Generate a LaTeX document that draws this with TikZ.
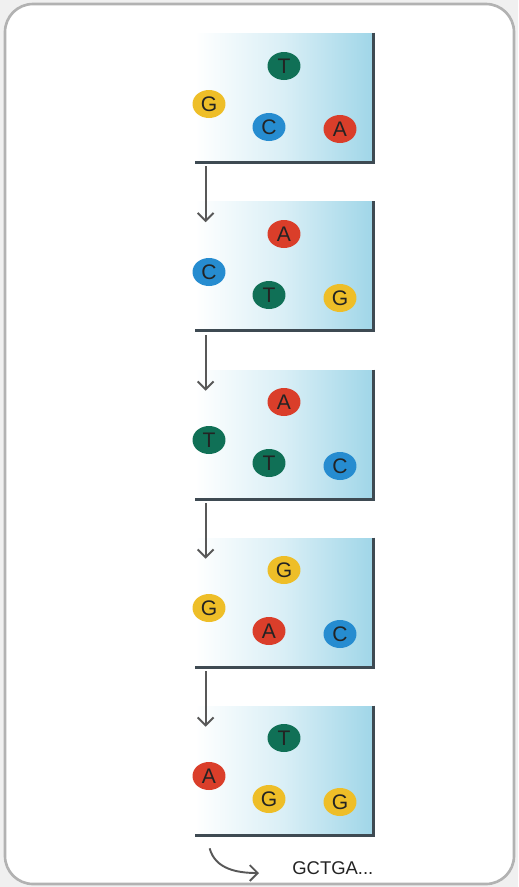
\documentclass[tikz,border=0pt]{standalone}
\usepackage{fontspec}
\setmainfont{Liberation Sans}
\usetikzlibrary{shapes.geometric, arrows.meta, positioning}
\definecolor{myframe}{RGB}{178,178,178}
\definecolor{mybg}{RGB}{240,240,240}
\definecolor{myblue}{RGB}{160,214,232}
\definecolor{myedge}{RGB}{62,74,82}
\definecolor{myarrow}{RGB}{88,88,88}
\definecolor{myyellow}{RGB}{238,190,40}
\definecolor{mygreen}{RGB}{16,112,86}
\definecolor{mycyan}{RGB}{38,140,208}
\definecolor{myred}{RGB}{218,62,42}
\definecolor{myink}{RGB}{35,35,35}
\tikzset{
  panel/.style={rectangle, minimum width=3.56cm, minimum height=2.58cm,
    inner sep=0pt, left color=white, right color=myblue, middle color=myblue!40},
  base/.style={ellipse, minimum width=0.66cm, minimum height=0.56cm,
    inner sep=0pt, font=\fontsize{12}{12}\selectfont, text=myink},
  gbase/.style={base, fill=myyellow},
  tbase/.style={base, fill=mygreen},
  cbase/.style={base, fill=mycyan},
  abase/.style={base, fill=myred},
  edge/.style={line width=1.6pt, color=myedge},
  arrow/.style={-{Straight Barb[length=4.5pt, width=9pt]}, line width=1.1pt, color=myarrow}
}
\begin{document}
\begin{tikzpicture}[x=0.02cm, y=-0.02cm]
  \useasboundingbox (0,0) rectangle (518,887);
  % Frame
  \fill[mybg] (0,0) rectangle (518,887);
  \draw[line width=1.5pt, color=myframe, fill=white, rounded corners=0.56cm] (5,4) rectangle (514,884);

  % Panel 1
  \node[panel] (p1) at (284,97.5) {};
  \draw[edge] (p1.north east) -- (p1.south east) -- (p1.south west);
  \node[tbase] (p1t) at (284,66) {T};
  \node[gbase] (p1l) at (209,104) {G};
  \node[cbase] (p1m) at (269,127) {C};
  \node[abase] (p1r) at (340,129) {A};

  % Panel 2
  \node[panel] (p2) at (284,266) {};
  \draw[edge] (p2.north east) -- (p2.south east) -- (p2.south west);
  \node[abase] (p2t) at (284,234) {A};
  \node[cbase] (p2l) at (209,272) {C};
  \node[tbase] (p2m) at (269,295) {T};
  \node[gbase] (p2r) at (340,298) {G};

  % Panel 3
  \node[panel] (p3) at (284,434.5) {};
  \draw[edge] (p3.north east) -- (p3.south east) -- (p3.south west);
  \node[abase] (p3t) at (284,402) {A};
  \node[tbase] (p3l) at (209,440) {T};
  \node[tbase] (p3m) at (269,463) {T};
  \node[cbase] (p3r) at (340,466) {C};

  % Panel 4
  \node[panel] (p4) at (284,602.5) {};
  \draw[edge] (p4.north east) -- (p4.south east) -- (p4.south west);
  \node[gbase] (p4t) at (284,570) {G};
  \node[gbase] (p4l) at (209,608) {G};
  \node[abase] (p4m) at (269,631) {A};
  \node[cbase] (p4r) at (340,634) {C};

  % Panel 5
  \node[panel] (p5) at (284,770.5) {};
  \draw[edge] (p5.north east) -- (p5.south east) -- (p5.south west);
  \node[tbase] (p5t) at (284,738) {T};
  \node[abase] (p5l) at (209,776) {A};
  \node[gbase] (p5m) at (269,799) {G};
  \node[gbase] (p5r) at (340,802) {G};

  % Steps
  \draw[arrow] ([xshift=0.22cm, yshift=-0.08cm]p1.south west) -- ([xshift=0.22cm, yshift=-0.42cm]p2.north west);
  \draw[arrow] ([xshift=0.22cm, yshift=-0.08cm]p2.south west) -- ([xshift=0.22cm, yshift=-0.42cm]p3.north west);
  \draw[arrow] ([xshift=0.22cm, yshift=-0.08cm]p3.south west) -- ([xshift=0.22cm, yshift=-0.42cm]p4.north west);
  \draw[arrow] ([xshift=0.22cm, yshift=-0.08cm]p4.south west) -- ([xshift=0.22cm, yshift=-0.42cm]p5.north west);

  % Read-out
  \node[anchor=west, inner sep=0pt, font=\fontsize{10.5}{12}\selectfont, text=myink] (seq) at (292,868) {GCTGA...};
  \draw[arrow] ([xshift=0.3cm, yshift=-0.26cm]p5.south west) to[out=-75, in=180] ([xshift=-0.66cm, yshift=-0.1cm]seq.west);
\end{tikzpicture}
\end{document}
